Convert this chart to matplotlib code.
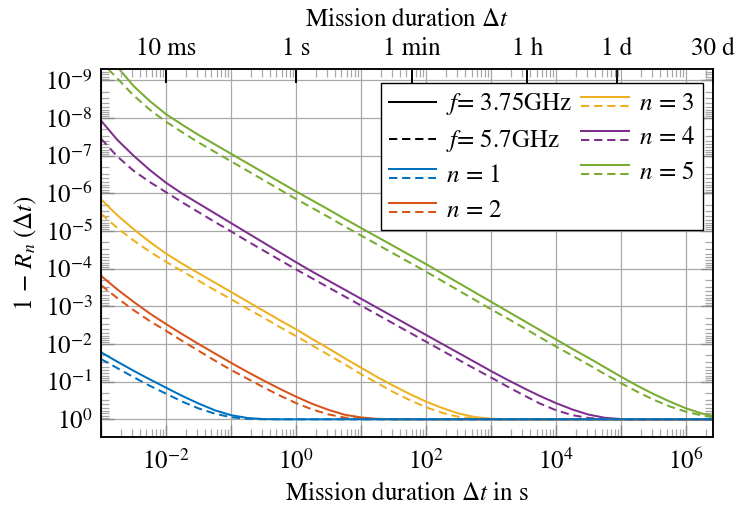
import numpy as np
import matplotlib
matplotlib.use("Agg")
import matplotlib.pyplot as plt
from matplotlib.lines import Line2D
from matplotlib.legend_handler import HandlerBase
from matplotlib.ticker import FixedLocator, FuncFormatter, NullFormatter

plt.rcParams['font.family'] = ['STIXGeneral', 'DejaVu Serif']
plt.rcParams['mathtext.fontset'] = 'stix'

# ---------------- data: log10(mission duration / s) and log10(1 - R_n) ----------------
logt = [-3, -2.75, -2.5, -2.25, -2, -1.75, -1.5, -1.25, -1, -0.75, -0.5, -0.25,
        0, 0.25, 0.5, 0.75, 1, 1.25, 1.5, 1.75, 2, 2.25, 2.5, 2.75, 3, 3.25, 3.5,
        3.75, 4, 4.25, 4.5, 4.75, 5, 5.25, 5.5, 5.75, 6, 6.25, 6.41]

n1_375 = [-1.78, -1.53, -1.29, -1.06, -0.84, -0.62, -0.42, -0.24, -0.11, -0.035, -0.006, 0]
n1_57 = [-1.60, -1.36, -1.12, -0.89, -0.68, -0.47, -0.29, -0.15, -0.055, -0.012, -0.001, 0]
n2_375 = [-3.81, -3.45, -3.12, -2.81, -2.53, -2.26, -2.00, -1.75, -1.50, -1.26, -1.03, -0.81,
          -0.60, -0.41, -0.25, -0.12, -0.05, -0.012, -0.002, 0]
n2_57 = [-3.56, -3.22, -2.90, -2.61, -2.35, -2.08, -1.82, -1.56, -1.31, -1.08, -0.85, -0.63,
         -0.43, -0.26, -0.13, -0.045, -0.01, -0.001, 0]
n3_375 = [-5.84, -5.42, -5.05, -4.71, -4.40, -4.13, -3.88, -3.63, -3.38, -3.13, -2.88, -2.63,
          -2.39, -2.13, -1.88, -1.62, -1.37, -1.12, -0.89, -0.67, -0.47, -0.30, -0.155,
          -0.06, -0.015, -0.002, 0]
n3_57 = [-5.46, -5.08, -4.75, -4.45, -4.18, -3.93, -3.68, -3.43, -3.19, -2.94, -2.70, -2.45,
         -2.21, -1.96, -1.71, -1.46, -1.20, -0.96, -0.72, -0.51, -0.32, -0.17, -0.065,
         -0.015, -0.002, 0]
n4_375 = [-7.93, -7.42, -7.00, -6.62, -6.28, -5.99, -5.73, -5.47, -5.21, -4.95, -4.69, -4.43,
          -4.17, -3.92, -3.68, -3.44, -3.20, -2.96, -2.72, -2.48, -2.24, -2.00, -1.76,
          -1.52, -1.28, -1.05, -0.83, -0.62, -0.43, -0.26, -0.125, -0.04, -0.007, 0]
n4_57 = [-7.45, -6.98, -6.60, -6.30, -6.03, -5.76, -5.50, -5.24, -4.99, -4.73, -4.48, -4.23,
         -3.98, -3.74, -3.50, -3.26, -3.02, -2.78, -2.54, -2.30, -2.06, -1.82, -1.58,
         -1.34, -1.11, -0.87, -0.64, -0.42, -0.24, -0.11, -0.035, -0.005, 0]

logt_n5 = [-2.72, -2.5, -2.25, -2, -1.75, -1.5, -1.25, -1, -0.75, -0.5, -0.25,
           0, 0.25, 0.5, 0.75, 1, 1.25, 1.5, 1.75, 2, 2.25, 2.5, 2.75, 3, 3.25, 3.5,
           3.75, 4, 4.25, 4.5, 4.75, 5, 5.25, 5.5, 5.75, 6, 6.25, 6.41]
n5_375 = [-9.30, -8.85, -8.45, -8.10, -7.82, -7.55, -7.30, -7.05, -6.80, -6.55, -6.30,
          -6.05, -5.81, -5.57, -5.32, -5.08, -4.84, -4.60, -4.36, -4.12, -3.87, -3.62,
          -3.37, -3.12, -2.87, -2.62, -2.37, -2.12, -1.87, -1.63, -1.38, -1.13, -0.89,
          -0.67, -0.47, -0.29, -0.15, -0.09]
logt_n5d = [-2.89, -2.75, -2.5, -2.25, -2, -1.75, -1.5, -1.25, -1, -0.75, -0.5, -0.25,
            0, 0.25, 0.5, 0.75, 1, 1.25, 1.5, 1.75, 2, 2.25, 2.5, 2.75, 3, 3.25, 3.5,
            3.75, 4, 4.25, 4.5, 4.75, 5, 5.25, 5.5, 5.75, 6, 6.25, 6.41]
n5_57 = [-9.30, -9.05, -8.60, -8.22, -7.90, -7.62, -7.35, -7.10, -6.85, -6.60, -6.35, -6.10,
         -5.85, -5.61, -5.37, -5.12, -4.88, -4.64, -4.40, -4.16, -3.92, -3.67, -3.42,
         -3.17, -2.92, -2.68, -2.43, -2.18, -1.93, -1.69, -1.45, -1.20, -0.96, -0.73,
         -0.52, -0.34, -0.20, -0.10, -0.06]

def full(vals):
    # curves stay at 10^0 once saturated
    return list(vals) + [0.0] * (len(logt) - len(vals))

series = [
    ("1", "#0072BD", logt, full(n1_375), logt, full(n1_57)),
    ("2", "#D95319", logt, full(n2_375), logt, full(n2_57)),
    ("3", "#EDB120", logt, full(n3_375), logt, full(n3_57)),
    ("4", "#7E2F8E", logt, full(n4_375), logt, full(n4_57)),
    ("5", "#77AC30", logt_n5, n5_375, logt_n5d, n5_57),
]

top_tick_vals = [1e-2, 1, 60, 3600, 86400, 2592000]
top_tick_labels = ["10 ms", "1 s", "1 min", "1 h", "1 d", "30 d"]

XMIN, XMAX = 1e-3, 2592000
YTOP, YBOT = 10 ** -9.3, 10 ** 0.47
FS = 18
LW = 1.45
DASH = (4.1, 2.4)

# ---------------- figure ----------------
fig = plt.figure(figsize=(7.39, 5.11), dpi=100)
ax = fig.add_axes([101 / 739, 1 - 437 / 511, 612 / 739, 368 / 511])
ax.set_xscale('log')
ax.set_yscale('log')

for name, col, tx, ys, tx2, yd in reversed(series):
    ax.plot(10.0 ** np.array(tx2), 10.0 ** np.array(yd), color=col, lw=LW,
            linestyle=(0, DASH), zorder=3)
    ax.plot(10.0 ** np.array(tx), 10.0 ** np.array(ys), color=col, lw=LW, zorder=3)

ax.set_xlim(XMIN, XMAX)
ax.set_ylim(YBOT, YTOP)

# y ticks
ax.yaxis.set_major_locator(FixedLocator([10.0 ** -k for k in range(0, 10)]))
ax.yaxis.set_major_formatter(FuncFormatter(lambda v, p: r'$10^{%d}$' % int(round(np.log10(v)))))
ymin_ticks = [m * 10.0 ** k for k in range(-10, 0) for m in range(2, 10)]
ax.yaxis.set_minor_locator(FixedLocator(ymin_ticks))
ax.yaxis.set_minor_formatter(NullFormatter())

# x ticks (bottom)
ax.xaxis.set_major_locator(FixedLocator([10.0 ** k for k in range(-3, 7)]))
def xfmt(v, p):
    e = int(round(np.log10(v)))
    return r'$10^{%d}$' % e if e % 2 == 0 else ''
ax.xaxis.set_major_formatter(FuncFormatter(xfmt))
xmin_ticks = [m * 10.0 ** k for k in range(-3, 7) for m in range(2, 10)]
ax.xaxis.set_minor_locator(FixedLocator(xmin_ticks))
ax.xaxis.set_minor_formatter(NullFormatter())

ax.grid(True, which='major', color='#a8a8a8', lw=0.9, zorder=1)
ax.tick_params(axis='both', which='major', direction='in', length=9, width=1.0,
               color='#8a8a8a', labelsize=FS, pad=6)
ax.tick_params(axis='y', which='both', right=True, left=True)
ax.tick_params(axis='x', which='both', top=False, bottom=True)
ax.tick_params(axis='both', which='minor', direction='in', length=5.5, width=0.9,
               color='#a8a8a8')
ax.tick_params(axis='x', which='major', pad=9)
for s in ax.spines.values():
    s.set_linewidth(1.1)
    s.set_color('black')
    s.set_zorder(5)

ax.set_xlabel(r'Mission duration $\Delta t$ in s', fontsize=FS, labelpad=5)
ax.set_ylabel(r'$1\,-\,R_n\;(\Delta t)$', fontsize=FS, labelpad=4)

# top axis
ax2 = ax.twiny()
ax2.set_xscale('log')
ax2.set_xlim(XMIN, XMAX)
ax2.xaxis.set_major_locator(FixedLocator(top_tick_vals))
ax2.set_xticklabels(top_tick_labels)
ax2.xaxis.set_minor_locator(FixedLocator(xmin_ticks))
ax2.xaxis.set_minor_formatter(NullFormatter())
ax2.tick_params(axis='x', which='major', direction='in', length=10, width=1.4,
                color='black', labelsize=FS, pad=6)
ax2.tick_params(axis='x', which='minor', direction='in', length=6, width=0.9,
                color='#a8a8a8')
ax2.set_xlabel(r'Mission duration $\Delta t$', fontsize=FS, labelpad=8)
for s in ax2.spines.values():
    s.set_linewidth(1.1)

# legend
class Pair:
    def __init__(self, color):
        self.color = color

class PairHandler(HandlerBase):
    def create_artists(self, legend, orig_handle, xdescent, ydescent, width, height,
                       fontsize, trans):
        yc = height / 2 - ydescent
        d = 3.3
        x0, x1 = -xdescent, -xdescent + width
        l1 = Line2D([x0, x1], [yc + d, yc + d], color=orig_handle.color, lw=LW,
                    transform=trans)
        l2 = Line2D([x0, x1], [yc - d, yc - d], color=orig_handle.color, lw=LW,
                    linestyle=(0, DASH), transform=trans)
        return [l1, l2]

handles = [Line2D([], [], color='black', lw=LW),
           Line2D([], [], color='black', lw=LW, linestyle=(0, DASH))]
labels = [r'$f$= 3.75GHz', r'$f$= 5.7GHz']
for name, col, *_ in series:
    handles.append(Pair(col))
    labels.append(r'$n\,=\,%s$' % name)

leg = ax.legend(handles, labels, handler_map={Pair: PairHandler()}, ncol=2,
                loc='upper right', bbox_to_anchor=(0.9837, 0.962), borderaxespad=0,
                fontsize=FS, frameon=True, fancybox=False, edgecolor='black',
                framealpha=1, handlelength=1.9, handletextpad=0.4, columnspacing=0.35,
                labelspacing=0.4, borderpad=0.3)
leg.get_frame().set_linewidth(1.0)
leg.set_zorder(10)

fig.savefig('out.png', dpi=100)
